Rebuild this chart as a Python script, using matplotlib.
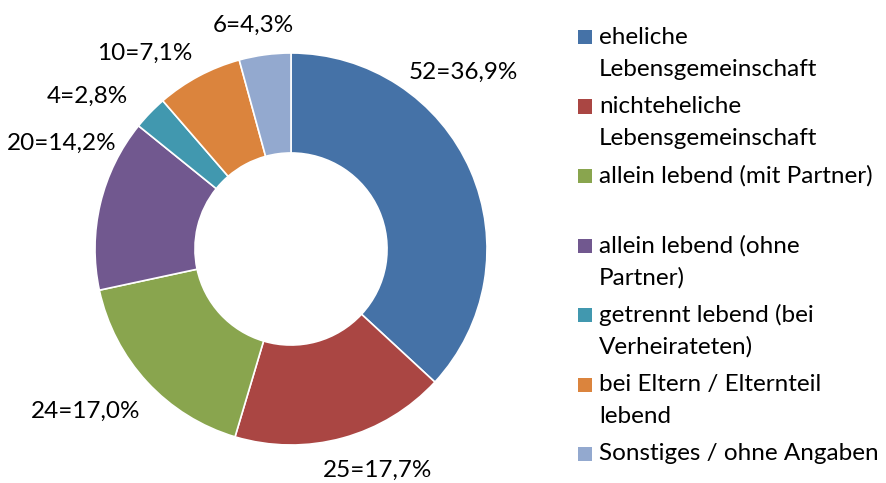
import matplotlib.pyplot as plt
from matplotlib.patches import Rectangle

plt.rcParams['font.family'] = ['Lato', 'DejaVu Sans']

# Daten
kategorien = ['eheliche\nLebensgemeinschaft', 'nichteheliche\nLebensgemeinschaft',
              'allein lebend (mit Partner)', 'allein lebend (ohne\nPartner)',
              'getrennt lebend (bei\nVerheirateten)', 'bei Eltern / Elternteil\nlebend',
              'Sonstiges / ohne Angaben']
anzahl = [52, 25, 24, 20, 4, 10, 6]
farben = ['#4572A7', '#AA4643', '#89A54E', '#71588F', '#4198AF', '#DB843D', '#93A9CF']

# Beschriftungspositionen (Excel "beste Anpassung"), relativ zum Radius
label_pos = [(0.88, 0.90), (0.44, -1.13), (-1.05, -0.83), (-1.17, 0.54),
             (-1.04, 0.78), (-0.745, 1.0), (-0.19, 1.14)]

gesamt = sum(anzahl)
beschriftungen = ['{}={}%'.format(n, ('%.1f' % (100 * n / gesamt)).replace('.', ','))
                  for n in anzahl]

fig = plt.figure(figsize=(8.86, 4.83), dpi=100)
r_px = 196
cx, cy = 291, 249
W, H = 886, 483
ax = fig.add_axes([(cx - r_px) / W, (H - cy - r_px) / H, 2 * r_px / W, 2 * r_px / H])
ax.pie(anzahl, colors=farben, startangle=90, counterclock=False, radius=1,
       wedgeprops=dict(width=0.51, edgecolor='white', linewidth=1.2))
ax.set_xlim(-1, 1)
ax.set_ylim(-1, 1)
ax.set_aspect('equal')

fs = 17.5
for txt, (x, y) in zip(beschriftungen, label_pos):
    ax.text(x, y, txt, ha='center', va='center', fontsize=fs, color='black', clip_on=False)

# Legende manuell (Excel-Stil, Kästchen an erster Zeile)
for i, (kat, f) in enumerate(zip(kategorien, farben)):
    y0 = 35 + 69.5 * i
    fig.patches.append(Rectangle((578 / W, 1 - (y0 + 9) / H), 14 / W, 14 / H,
                                 transform=fig.transFigure, facecolor=f, edgecolor='none'))
    for j, zeile in enumerate(kat.split('\n')):
        fig.text(599 / W, 1 - (y0 + 32 * j) / H, zeile, ha='left', va='center_baseline',
                 fontsize=fs, transform=fig.transFigure)

fig.savefig('out.png', dpi=100)
